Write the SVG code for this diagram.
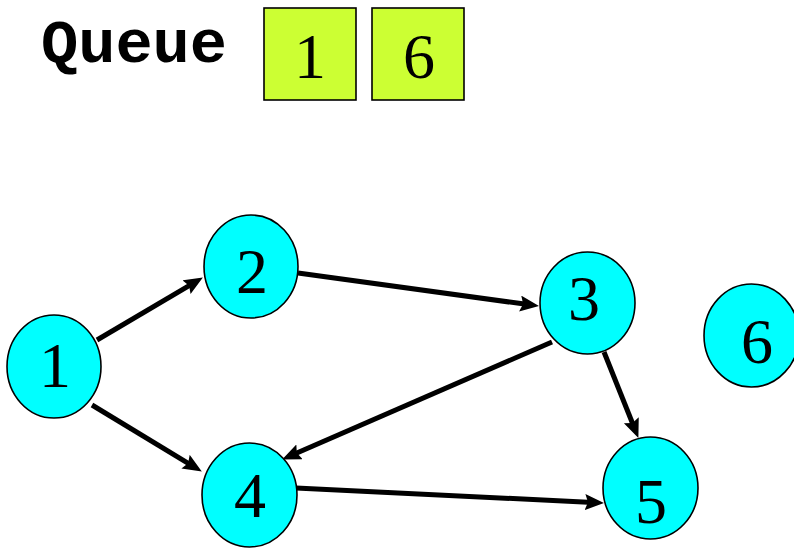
<svg xmlns="http://www.w3.org/2000/svg" width="794" height="548" viewBox="0 0 794 548">
  <style>
    .node ellipse { fill: #00FFFF; stroke: #000; stroke-width: 1.6; }
    .qbox rect { fill: #CCFF33; stroke: #000; stroke-width: 1.6; }
    .num { font-family: "Liberation Serif", "Times New Roman", serif; font-size: 64px; fill: #000; text-anchor: middle; }
    .title { font-family: "Courier New", "Nimbus Mono PS", "FreeMono", "Liberation Mono", monospace; font-weight: bold; font-size: 62px; fill: #000; }
    .edge { stroke: #000; stroke-width: 5; fill: none; marker-end: url(#arrow); }
  </style>
  <defs>
    <marker id="arrow" markerUnits="userSpaceOnUse" markerWidth="22" markerHeight="18" refX="8" refY="8" orient="auto">
      <path d="M0,0 L19,8 L0,16 L3,8 z" fill="#000"/>
    </marker>
  </defs>

  <!-- queue header -->
  <g id="queue">
    <text class="title" x="41" y="62">Queue</text>
    <g class="qbox" id="q1">
      <rect x="264" y="8" width="92" height="92"/>
      <text class="num" x="310" y="78">1</text>
    </g>
    <g class="qbox" id="q6">
      <rect x="372" y="8" width="92" height="92"/>
      <text class="num" x="419" y="78">6</text>
    </g>
  </g>

  <!-- directed edges -->
  <g id="edges">
    <line class="edge" x1="97" y1="340" x2="193.4" y2="283.1"/>
    <line class="edge" x1="92" y1="405" x2="192.4" y2="465.8"/>
    <line class="edge" x1="298" y1="273" x2="528.1" y2="304.6"/>
    <line class="edge" x1="552" y1="342" x2="292.2" y2="455.0"/>
    <line class="edge" x1="604" y1="352" x2="634.3" y2="427.7"/>
    <line class="edge" x1="296" y1="488" x2="593.0" y2="502.5"/>
  </g>

  <!-- vertices -->
  <g id="node1" class="node">
    <ellipse cx="54" cy="366.5" rx="47" ry="51.5"/>
    <text class="num" x="55" y="387">1</text>
  </g>
  <g id="node2" class="node">
    <ellipse cx="251" cy="266.5" rx="47" ry="51.5"/>
    <text class="num" x="252" y="293">2</text>
  </g>
  <g id="node3" class="node">
    <ellipse cx="587.5" cy="303" rx="47.5" ry="51"/>
    <text class="num" x="584" y="320">3</text>
  </g>
  <g id="node4" class="node">
    <ellipse cx="249.5" cy="495" rx="47.5" ry="52"/>
    <text class="num" x="250" y="517">4</text>
  </g>
  <g id="node5" class="node">
    <ellipse cx="650.5" cy="488" rx="47.5" ry="51"/>
    <text class="num" x="651" y="523">5</text>
  </g>
  <g id="node6" class="node">
    <ellipse cx="751.5" cy="335.5" rx="47.5" ry="51.5"/>
    <text class="num" x="757" y="363">6</text>
  </g>
</svg>
